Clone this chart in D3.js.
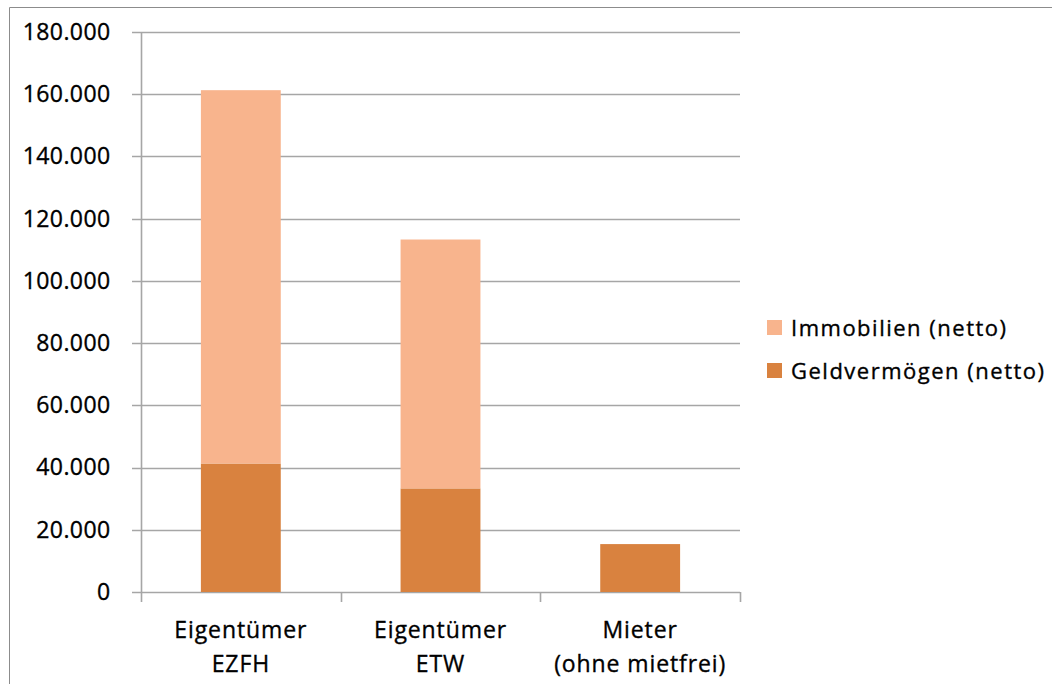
<!DOCTYPE html>
<html>
<head>
<meta charset="utf-8">
<script src="https://cdn.jsdelivr.net/npm/d3@7"></script>
<style>
  html, body { margin: 0; padding: 0; background: #fff; }
  svg { display: block; font-family: "Open Sans", "Liberation Sans", sans-serif; }
  .lbl { fill: #000; stroke: #000; stroke-width: 0.35px; }
</style>
</head>
<body>
<svg id="chart" width="1052" height="684"></svg>
<script>
// Net wealth by household type (stacked: money assets + real estate)
const categories = [["Eigentümer", "EZFH"], ["Eigentümer", "ETW"], ["Mieter", "(ohne mietfrei)"]];
const seriesNames = ["Geldvermögen (netto)", "Immobilien (netto)"];
const geldvermoegen = [41300, 33300, 15400];
const immobilien = [120000, 80000, 0];
const yTicks = [0, 20000, 40000, 60000, 80000, 100000, 120000, 140000, 160000, 180000];
const colors = { "Geldvermögen (netto)": "#d9823f", "Immobilien (netto)": "#f8b48d" };

const svg = d3.select("#chart");
svg.append("rect").attr("width", 1052).attr("height", 684).attr("fill", "#fff");

// outer frame (top and left edges)
svg.append("path")
  .attr("d", "M9.5,684 V7.5 H1052")
  .attr("fill", "none").attr("stroke", "#8c8c8c").attr("stroke-width", 1);

const plot = { left: 141, right: 740, top: 32, bottom: 592 };

const keys = categories.map(c => c.join(" "));
const x = d3.scaleBand().domain(keys).range([plot.left, plot.right])
  .paddingInner(0.6).paddingOuter(0.3);
const y = d3.scaleLinear().domain([0, 180000]).range([plot.bottom, plot.top]);

const de = d3.formatLocale({ decimal: ",", thousands: ".", grouping: [3], currency: ["", " €"] });
const fmt = de.format(",d");

// horizontal gridlines
svg.append("g").selectAll("line").data(yTicks).join("line")
  .attr("x1", plot.left - 9).attr("x2", plot.right)
  .attr("y1", d => Math.round(y(d)) + 0.5).attr("y2", d => Math.round(y(d)) + 0.5)
  .attr("stroke", "#a6a6a6").attr("stroke-width", 1.6);

// y axis
const yAxis = svg.append("g").attr("transform", `translate(${plot.left + 0.5},0)`)
  .call(d3.axisLeft(y).tickValues(yTicks).tickFormat(fmt).tickSize(0).tickPadding(31));
yAxis.select(".domain").attr("stroke", "#a6a6a6").attr("stroke-width", 1.6)
  .attr("d", `M0,${plot.top}V${plot.bottom + 0.5}`);
yAxis.selectAll("text").attr("class", "lbl").attr("font-size", 23)
  .attr("font-family", "'Open Sans', sans-serif").attr("letter-spacing", 0.4);

// stacked bars
const rows = keys.map((k, i) => ({ key: k, "Geldvermögen (netto)": geldvermoegen[i], "Immobilien (netto)": immobilien[i] }));
const stacked = d3.stack().keys(seriesNames)(rows);
svg.append("g").selectAll("g").data(stacked).join("g")
  .attr("fill", s => colors[s.key])
  .selectAll("rect").data(s => s.filter(d => d[1] - d[0] > 0)).join("rect")
  .attr("x", d => x(d.data.key))
  .attr("width", x.bandwidth())
  .attr("y", d => y(d[1]))
  .attr("height", d => y(d[0]) - y(d[1]));

// x axis: category boundary ticks
const step = x.step();
const bounds = d3.range(keys.length + 1).map(i => plot.left + i * step);
svg.append("g").selectAll("line").data(bounds).join("line")
  .attr("x1", d => Math.round(d) + 0.5).attr("x2", d => Math.round(d) + 0.5)
  .attr("y1", plot.bottom).attr("y2", plot.bottom + 10)
  .attr("stroke", "#a6a6a6").attr("stroke-width", 1.6);

// x axis labels (two lines)
const xAxis = svg.append("g").attr("transform", `translate(0,${plot.bottom})`)
  .call(d3.axisBottom(x).tickSize(0).tickFormat(() => ""));
xAxis.select(".domain").remove();
xAxis.selectAll(".tick").each(function(k, i) {
  const t = d3.select(this).select("text")
    .attr("class", "lbl").attr("font-size", 23).attr("y", 0).attr("dy", null)
    .attr("letter-spacing", 0.9)
    .attr("font-family", "'Open Sans', sans-serif");
  categories[i].forEach((line, j) => {
    t.append("tspan").attr("x", 0).attr("y", 46 + j * 34).text(line);
  });
});

// legend
const legendItems = ["Immobilien (netto)", "Geldvermögen (netto)"];
const legend = svg.append("g").attr("transform", "translate(767,320)");
const li = legend.selectAll("g").data(legendItems).join("g")
  .attr("transform", (d, i) => `translate(0,${i * 43})`);
li.append("rect").attr("width", 15).attr("height", 15).attr("fill", d => colors[d]);
li.append("text").attr("class", "lbl").attr("x", 24).attr("y", 15.5)
  .attr("font-size", 22).attr("letter-spacing", 1.5).text(d => d);
</script>
</body>
</html>
